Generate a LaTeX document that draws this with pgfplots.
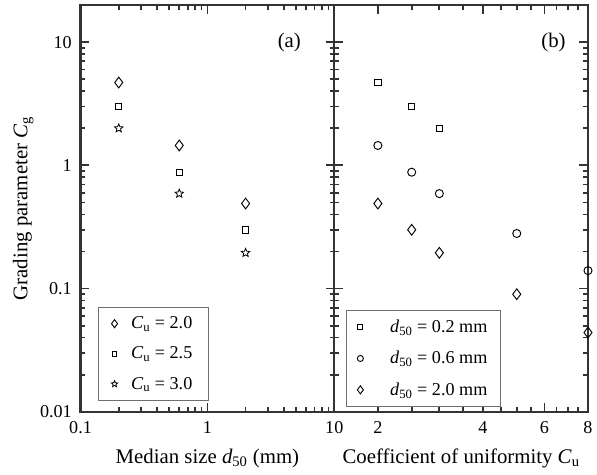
\documentclass[border=0pt]{standalone}
\usepackage{fontspec}
\setmainfont{Liberation Serif}
\usepackage{pgfplots}
\pgfplotsset{compat=1.18}
\definecolor{AxGray}{HTML}{333333}
\definecolor{LegGray}{HTML}{6E6E6E}
\newcommand{\tickfont}{\fontsize{13.5}{15}\selectfont}
\newcommand{\labfont}{\fontsize{15.5}{18}\selectfont}
% hollow five-pointed star
\pgfdeclareplotmark{starO}{%
  \pgfpathmoveto{\pgfpointpolar{90}{\pgfplotmarksize}}%
  \pgfpathlineto{\pgfpointpolar{126}{0.45\pgfplotmarksize}}%
  \pgfpathlineto{\pgfpointpolar{162}{\pgfplotmarksize}}%
  \pgfpathlineto{\pgfpointpolar{198}{0.45\pgfplotmarksize}}%
  \pgfpathlineto{\pgfpointpolar{234}{\pgfplotmarksize}}%
  \pgfpathlineto{\pgfpointpolar{270}{0.45\pgfplotmarksize}}%
  \pgfpathlineto{\pgfpointpolar{306}{\pgfplotmarksize}}%
  \pgfpathlineto{\pgfpointpolar{342}{0.45\pgfplotmarksize}}%
  \pgfpathlineto{\pgfpointpolar{18}{\pgfplotmarksize}}%
  \pgfpathlineto{\pgfpointpolar{54}{0.45\pgfplotmarksize}}%
  \pgfpathclose
  \pgfusepathqstroke
}

\begin{document}
\begin{tikzpicture}
  \begin{axis}[name=a,
    xmode=log, ymode=log, scale only axis, width=189pt, height=303pt,
    ymin=0.01, ymax=20, clip=false,
    axis line style={draw=AxGray, line width=1.6pt},
    tick align=inside, major tick length=6.5pt, minor tick length=3.5pt,
    tick style={draw=AxGray, line width=1.3pt},
    ticklabel style={font=\tickfont},
    xticklabel style={yshift=-4pt}, yticklabel style={xshift=-3pt},
    label style={font=\labfont},
    xlabel style={yshift=-4pt}, ylabel style={yshift=-2pt},
    ytick={0.01,0.1,1,10}, yticklabels={0.01,0.1,1,10},
    minor ytick={0.02,0.03,0.04,0.05,0.06,0.07,0.08,0.09,0.2,0.3,0.4,0.5,0.6,0.7,0.8,0.9,2,3,4,5,6,7,8,9},
    xmin=0.1, xmax=10, xtick={0.1,1,10}, xticklabels={0.1,1,10},
    minor xtick={0.2,0.3,0.4,0.5,0.6,0.7,0.8,0.9,2,3,4,5,6,7,8,9},
    xlabel={Median size \textit{d}\textsubscript{50} (mm)},
    ylabel={Grading parameter \textit{C}\textsubscript{g}},
    legend cell align=left,
    legend image post style={mark options={scale=0.75, fill=white}},
    legend style={draw=LegGray, line width=0.6pt, anchor=south west,
      row sep=8pt, inner xsep=10pt, inner ysep=5pt,
      /tikz/every odd column/.append style={column sep=8pt},
      at={(rel axis cs:0.067,0.027)}, font=\tickfont}]
    \addplot[only marks, black, line width=0.7pt, mark=diamond, mark size=4pt, mark options={fill=white}] coordinates {(0.2,4.7) (0.6,1.45) (2,0.49)};
    \addplot[only marks, black, line width=0.7pt, mark=square, mark size=2.4pt, mark options={fill=white}] coordinates {(0.2,3.0) (0.6,0.88) (2,0.30)};
    \addplot[only marks, black, line width=0.6pt, mark=starO, mark size=3.3pt, mark options={fill=white}] coordinates {(0.2,2.0) (0.6,0.59) (2,0.195)};
    \legend{\textit{C}\textsubscript{u} = 2.0, \textit{C}\textsubscript{u} = 2.5, \textit{C}\textsubscript{u} = 3.0}
    \node[font=\labfont] at (rel axis cs:0.823,0.908) {(a)};
  \end{axis}
  \begin{axis}[at={(a.south east)}, anchor=south west,
    xmode=log, ymode=log, scale only axis, width=189pt, height=303pt,
    ymin=0.01, ymax=20, clip=false,
    axis line style={draw=AxGray, line width=1.6pt},
    tick align=inside, major tick length=6.5pt, minor tick length=3.5pt,
    tick style={draw=AxGray, line width=1.3pt},
    ticklabel style={font=\tickfont},
    xticklabel style={yshift=-4pt},
    label style={font=\labfont},
    xlabel style={yshift=-4pt},
    ytick={0.01,0.1,1,10}, yticklabels={},
    minor ytick={0.02,0.03,0.04,0.05,0.06,0.07,0.08,0.09,0.2,0.3,0.4,0.5,0.6,0.7,0.8,0.9,2,3,4,5,6,7,8,9},
    xmin=1.5, xmax=8, xtick={2,4,6,8}, xticklabels={2,4,6,8},
    minor xtick={2.5,3,3.5,4.5,5,5.5,6.5,7,7.5},
    xlabel={Coefficient of uniformity \textit{C}\textsubscript{u}},
    legend cell align=left,
    legend image post style={mark options={scale=0.75, fill=white}},
    legend style={draw=LegGray, line width=0.6pt, anchor=south west,
      row sep=8.5pt, inner xsep=8pt, inner ysep=5pt,
      /tikz/every odd column/.append style={column sep=18pt},
      at={(rel axis cs:0.047,0.012)}, font=\tickfont}]
    \addplot[only marks, black, line width=0.7pt, mark=square, mark size=2.4pt, mark options={fill=white}] coordinates {(2,4.7) (2.5,3.0) (3,2.0)};
    \addplot[only marks, black, line width=0.7pt, mark=o, mark size=3pt, mark options={fill=white}] coordinates {(2,1.45) (2.5,0.88) (3,0.59) (5,0.28) (8,0.14)};
    \addplot[only marks, black, line width=0.7pt, mark=diamond, mark size=4pt, mark options={fill=white}] coordinates {(2,0.49) (2.5,0.30) (3,0.195) (5,0.09) (8,0.044)};
    \legend{\textit{d}\textsubscript{50} = 0.2 mm, \textit{d}\textsubscript{50} = 0.6 mm, \textit{d}\textsubscript{50} = 2.0 mm}
    \node[font=\labfont] at (rel axis cs:0.864,0.908) {(b)};
  \end{axis}
  % page margins as in the reference
  \path ([xshift=-60pt,yshift=3.75pt]a.north west) ([yshift=-47pt]a.south west);
\end{tikzpicture}
\end{document}
